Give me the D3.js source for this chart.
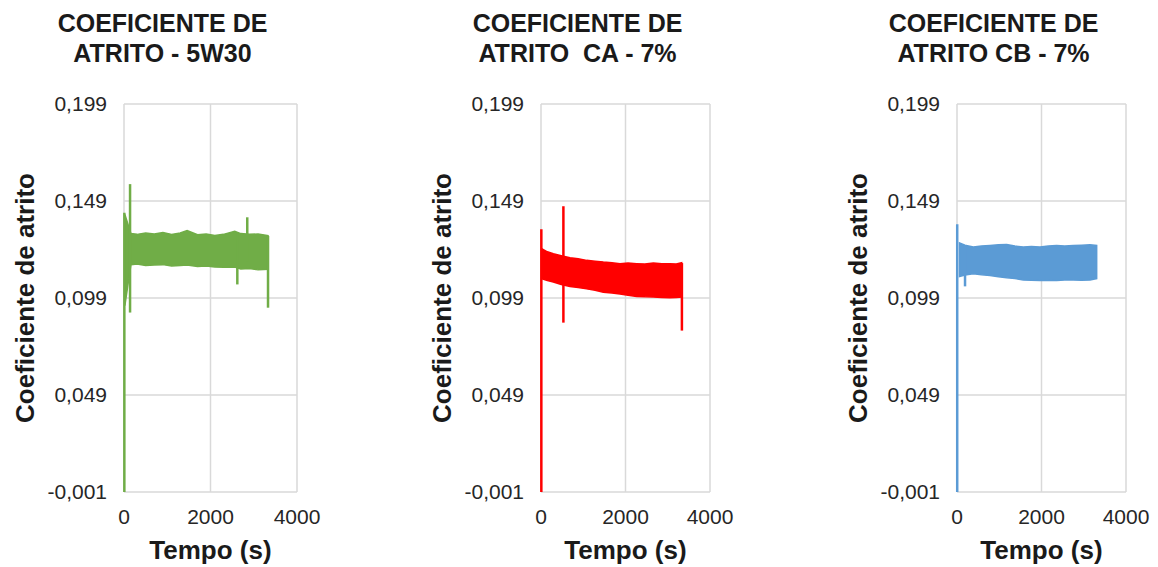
<!DOCTYPE html>
<html>
<head>
<meta charset="utf-8">
<script src="https://cdn.jsdelivr.net/npm/d3@7"></script>
<style>
  body { margin: 0; background: #fff; }
  text { font-family: "Liberation Sans", Arial, sans-serif; white-space: pre; }
</style>
</head>
<body>
<svg id="chart" width="1158" height="567"></svg>
<script>
// tick labels shared by the three panels
const yTicks = [-0.001, 0.049, 0.099, 0.149, 0.199]
const xTicks = [0, 2000, 4000]

// 5W30 : noisy band (upper / lower envelope) + spikes [t, low, high]
const timeA = [20, 160, 300, 500, 700, 900, 1100, 1300, 1460, 1700, 1900, 2100, 2300, 2560, 2700, 2900, 3100, 3330]
const upperA = [0.142, 0.1322, 0.1318, 0.1325, 0.1320, 0.1328, 0.1318, 0.1325, 0.1338, 0.1316, 0.1320, 0.1312, 0.1318, 0.1334, 0.1322, 0.1318, 0.1320, 0.1312]
const lowerA = [0.095, 0.1162, 0.1165, 0.1158, 0.1160, 0.1162, 0.1155, 0.1158, 0.1160, 0.1152, 0.1155, 0.1150, 0.1148, 0.1150, 0.1140, 0.1142, 0.1135, 0.1138]
const spikesA = [[8, -0.001, 0.143], [140, 0.0915, 0.1577], [2620, 0.106, 0.133], [2850, 0.118, 0.1406], [3330, 0.094, 0.131]]

// CA - 7%
const timeB = [16, 150, 292, 480, 686, 880, 1081, 1280, 1475, 1680, 1870, 2060, 2264, 2460, 2659, 2860, 3053, 3200, 3329]
const upperB = [0.1244, 0.1228, 0.1218, 0.1208, 0.1198, 0.1192, 0.1184, 0.1180, 0.1175, 0.1172, 0.1167, 0.1170, 0.1167, 0.1165, 0.1170, 0.1166, 0.1167, 0.1165, 0.1172]
const lowerB = [0.1089, 0.1080, 0.1072, 0.1060, 0.1049, 0.1044, 0.1037, 0.1030, 0.1020, 0.1016, 0.1011, 0.1004, 0.0998, 0.0996, 0.0995, 0.0992, 0.0991, 0.0993, 0.0995]
const spikesB = [[8, -0.001, 0.1344], [530, 0.0863, 0.1463], [3335, 0.0822, 0.117]]

// CB - 7%
const timeC = [60, 190, 386, 580, 781, 980, 1176, 1370, 1570, 1760, 1964, 2160, 2359, 2550, 2753, 2950, 3148, 3306]
const upperC = [0.1274, 0.1262, 0.1253, 0.1258, 0.1261, 0.1264, 0.1266, 0.1258, 0.1253, 0.1255, 0.1253, 0.1258, 0.1261, 0.1258, 0.1260, 0.1262, 0.1264, 0.1261]
const lowerC = [0.1101, 0.1108, 0.1115, 0.1110, 0.1106, 0.1100, 0.1094, 0.1090, 0.1083, 0.1082, 0.1080, 0.1082, 0.1080, 0.1083, 0.1083, 0.1082, 0.1083, 0.1090]
const spikesC = [[5, -0.001, 0.137], [190, 0.105, 0.125]]

const titles = [['COEFICIENTE DE', 'ATRITO - 5W30'], ['COEFICIENTE DE', 'ATRITO  CA - 7%'], ['COEFICIENTE DE', 'ATRITO CB - 7%']]
const colors = ['#70ad47', '#ff0000', '#5b9bd5']

const panels = [
  { left: 124, right: 297, time: timeA, upper: upperA, lower: lowerA, spikes: spikesA },
  { left: 541, right: 710, time: timeB, upper: upperB, lower: lowerB, spikes: spikesB },
  { left: 957, right: 1126, time: timeC, upper: upperC, lower: lowerC, spikes: spikesC }
]

const svg = d3.select('#chart')
const plotTop = 104
const plotBottom = 492
const fmt = d => d3.format('.3f')(d).replace('.', ',').replace('−', '-')

panels.forEach((p, i) => {
  const x = d3.scaleLinear().domain([0, 4000]).range([p.left, p.right])
  const y = d3.scaleLinear().domain([-0.001, 0.199]).range([plotBottom, plotTop])
  const g = svg.append('g')
  const color = colors[i]

  // grid
  g.selectAll('line.h')
    .data(yTicks)
    .enter()
    .append('line')
    .attr('x1', p.left).attr('x2', p.right)
    .attr('y1', d => y(d)).attr('y2', d => y(d))
    .attr('stroke', '#d9d9d9').attr('stroke-width', 1.5)
  g.selectAll('line.v')
    .data(xTicks)
    .enter()
    .append('line')
    .attr('x1', d => x(d)).attr('x2', d => x(d))
    .attr('y1', plotTop).attr('y2', plotBottom)
    .attr('stroke', '#d9d9d9').attr('stroke-width', 1.5)

  // band
  const band = p.time.map((t, k) => ({ t, hi: p.upper[k], lo: p.lower[k] }))
  g.append('path')
    .datum(band)
    .attr('d', d3.area().x(d => x(d.t)).y0(d => y(d.lo)).y1(d => y(d.hi)))
    .attr('fill', color)
    .attr('stroke', color)
    .attr('stroke-width', 1.5)

  // spikes
  g.selectAll('line.spike')
    .data(p.spikes)
    .enter()
    .append('line')
    .attr('x1', d => x(d[0])).attr('x2', d => x(d[0]))
    .attr('y1', d => y(d[1])).attr('y2', d => y(d[2]))
    .attr('stroke', color)
    .attr('stroke-width', 2.5)

  // tick labels
  g.selectAll('text.yt')
    .data(yTicks)
    .enter()
    .append('text')
    .attr('x', p.left - 17)
    .attr('y', d => y(d))
    .attr('dy', '0.35em')
    .attr('text-anchor', 'end')
    .attr('font-size', 21)
    .attr('fill', '#262626')
    .text(fmt)
  g.selectAll('text.xt')
    .data(xTicks)
    .enter()
    .append('text')
    .attr('x', d => x(d))
    .attr('y', 524)
    .attr('text-anchor', 'middle')
    .attr('font-size', 21)
    .attr('fill', '#262626')
    .text(d => d)

  // titles
  const cx = (p.left + p.right) / 2 - 48
  g.selectAll('text.title')
    .data(titles[i])
    .enter()
    .append('text')
    .attr('x', cx)
    .attr('y', (d, k) => 32 + k * 30)
    .attr('text-anchor', 'middle')
    .attr('font-size', 25)
    .attr('font-weight', 'bold')
    .attr('fill', '#1a1a1a')
    .text(d => d)

  g.append('text')
    .attr('x', (p.left + p.right) / 2)
    .attr('y', 559)
    .attr('text-anchor', 'middle')
    .attr('font-size', 26)
    .attr('font-weight', 'bold')
    .attr('fill', '#1a1a1a')
    .text('Tempo (s)')

  g.append('text')
    .attr('transform', `translate(${p.left - 90},${(plotTop + plotBottom) / 2}) rotate(-90)`)
    .attr('text-anchor', 'middle')
    .attr('font-size', 26)
    .attr('font-weight', 'bold')
    .attr('fill', '#1a1a1a')
    .text('Coeficiente de atrito')
})
</script>
</body>
</html>
